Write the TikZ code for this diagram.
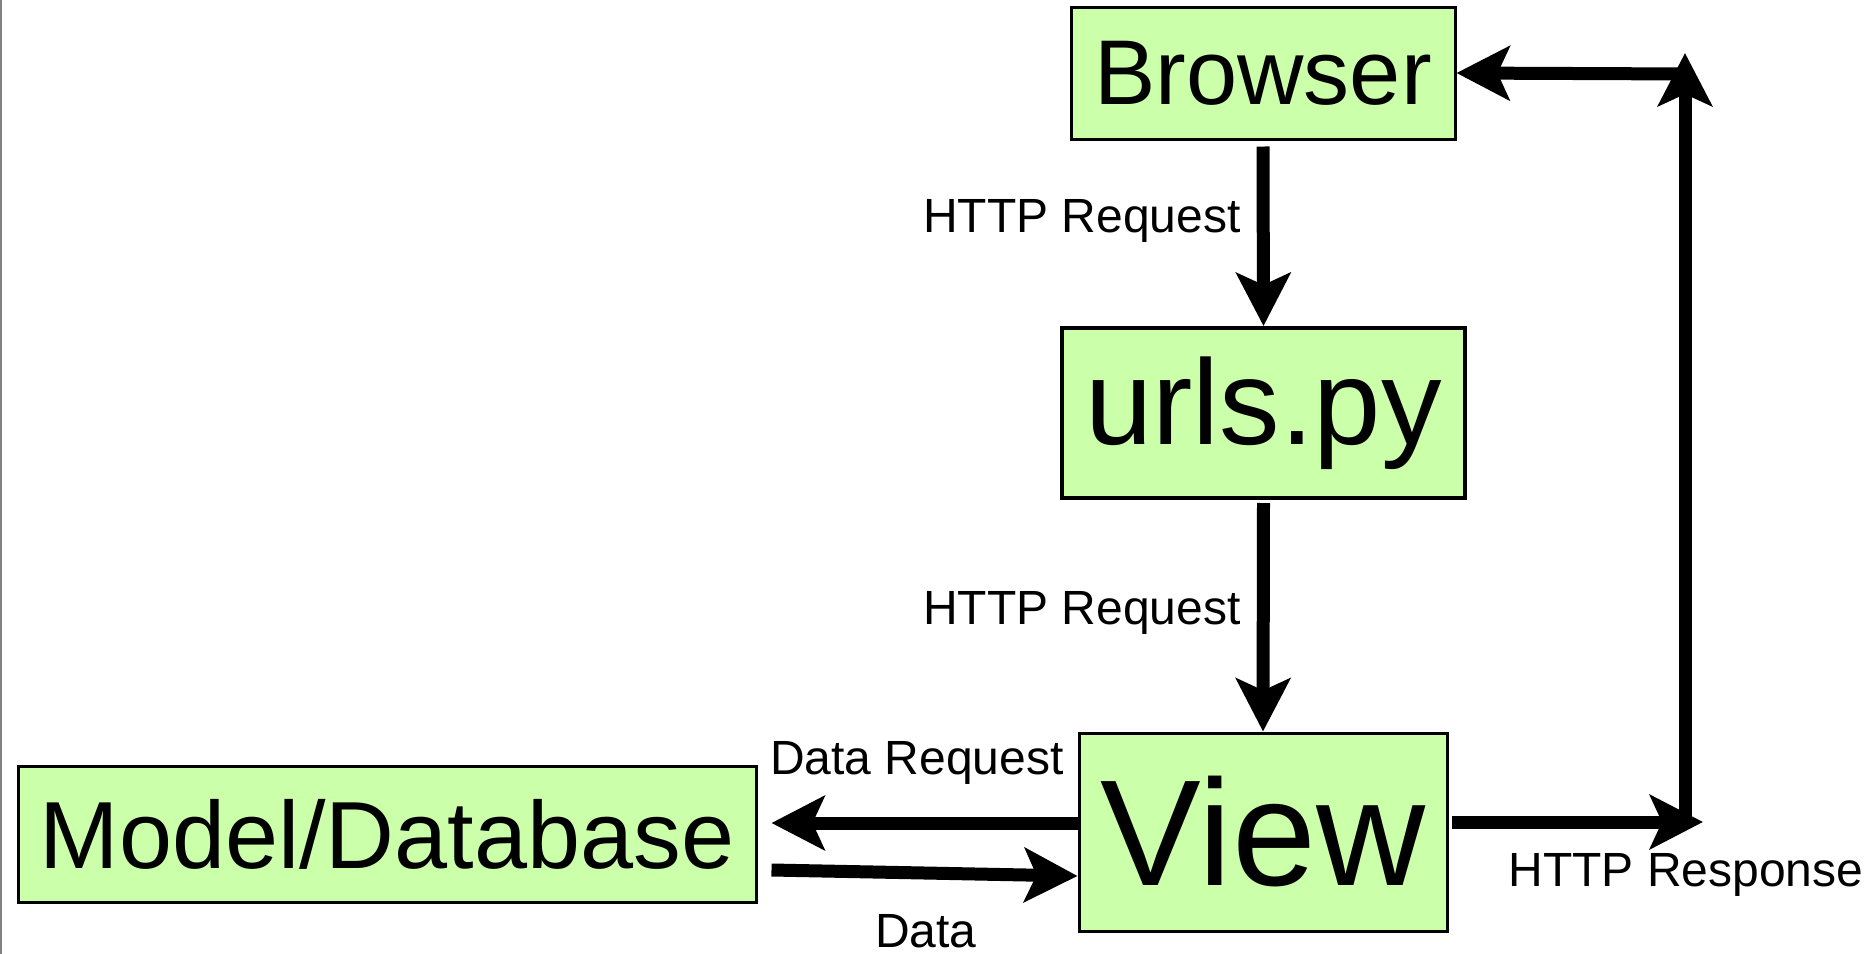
\documentclass[tikz,border=0pt]{standalone}
\usepackage{fontspec}
\setmainfont{Liberation Sans}
\usetikzlibrary{arrows.meta}
\definecolor{boxgreen}{RGB}{204,255,170}

\begin{document}
\begin{tikzpicture}[x = .5pt, y = -.5pt,
	box/.style = {draw, fill = boxgreen, line width = 1.5pt, inner sep = 0pt},
	lbl/.style = {anchor = base, inner sep = 0pt, font = \fontsize{24}{28}\selectfont},
	arr/.style = {line width = 6.5pt, -{Stealth[length = 26.5pt, width = 27pt, inset = 6pt]}}]
	\useasboundingbox (0,0) rectangle (1876,954);
	\draw[gray, line width = 1pt] (1,0)--(1,954); %left edge
	\node[box, minimum width = 192pt, minimum height = 66pt, font = \fontsize{46}{50}\selectfont] (browser) at (1263,73) {Browser};
	\node[box, line width = 2pt, minimum width = 201.5pt, minimum height = 85pt, font = \fontsize{60.5}{64}\selectfont] (urls) at (1263.5,413) {urls.py};
	\node[box, minimum width = 184pt, minimum height = 99pt, font = \fontsize{75.5}{80}\selectfont] (view) at (1263,832) {View};
	\node[box, minimum width = 369pt, minimum height = 68pt, font = \fontsize{47.7}{52}\selectfont] (model) at (387,834) {Model/Database};
	\coordinate (rspend) at (1703,822);
	\coordinate (turn) at (1685,822);
	\coordinate (top) at (1685,53);
	\coordinate (back) at (1691,74);
	\draw[arr] ([yshift=-3pt]browser.south)--(urls.north);
	\draw[arr] ([yshift=-1.5pt]urls.south)--(view.north);
	\draw[arr] ([yshift=4.5pt]view.west)--([xshift=7pt, yshift=5.5pt]model.east);
	\draw[arr] ([xshift=7pt, yshift=-18pt]model.east)--([yshift=-22pt]view.west);
	\draw[arr] ([xshift=1.5pt, yshift=5pt]view.east)--(rspend);
	\draw[arr] (turn)--(top);
	\draw[arr] (back)--(browser.east);
	\node[lbl] (req1) at (1082,232) {HTTP Request};
	\node[lbl] (req2) at (1082,624) {HTTP Request};
	\node[lbl] (dreq) at (917,774) {Data Request};
	\node[lbl] (data) at (926,947) {Data};
	\node[lbl] (resp) at (1686,886) {HTTP Response};
\end{tikzpicture}
\end{document}
